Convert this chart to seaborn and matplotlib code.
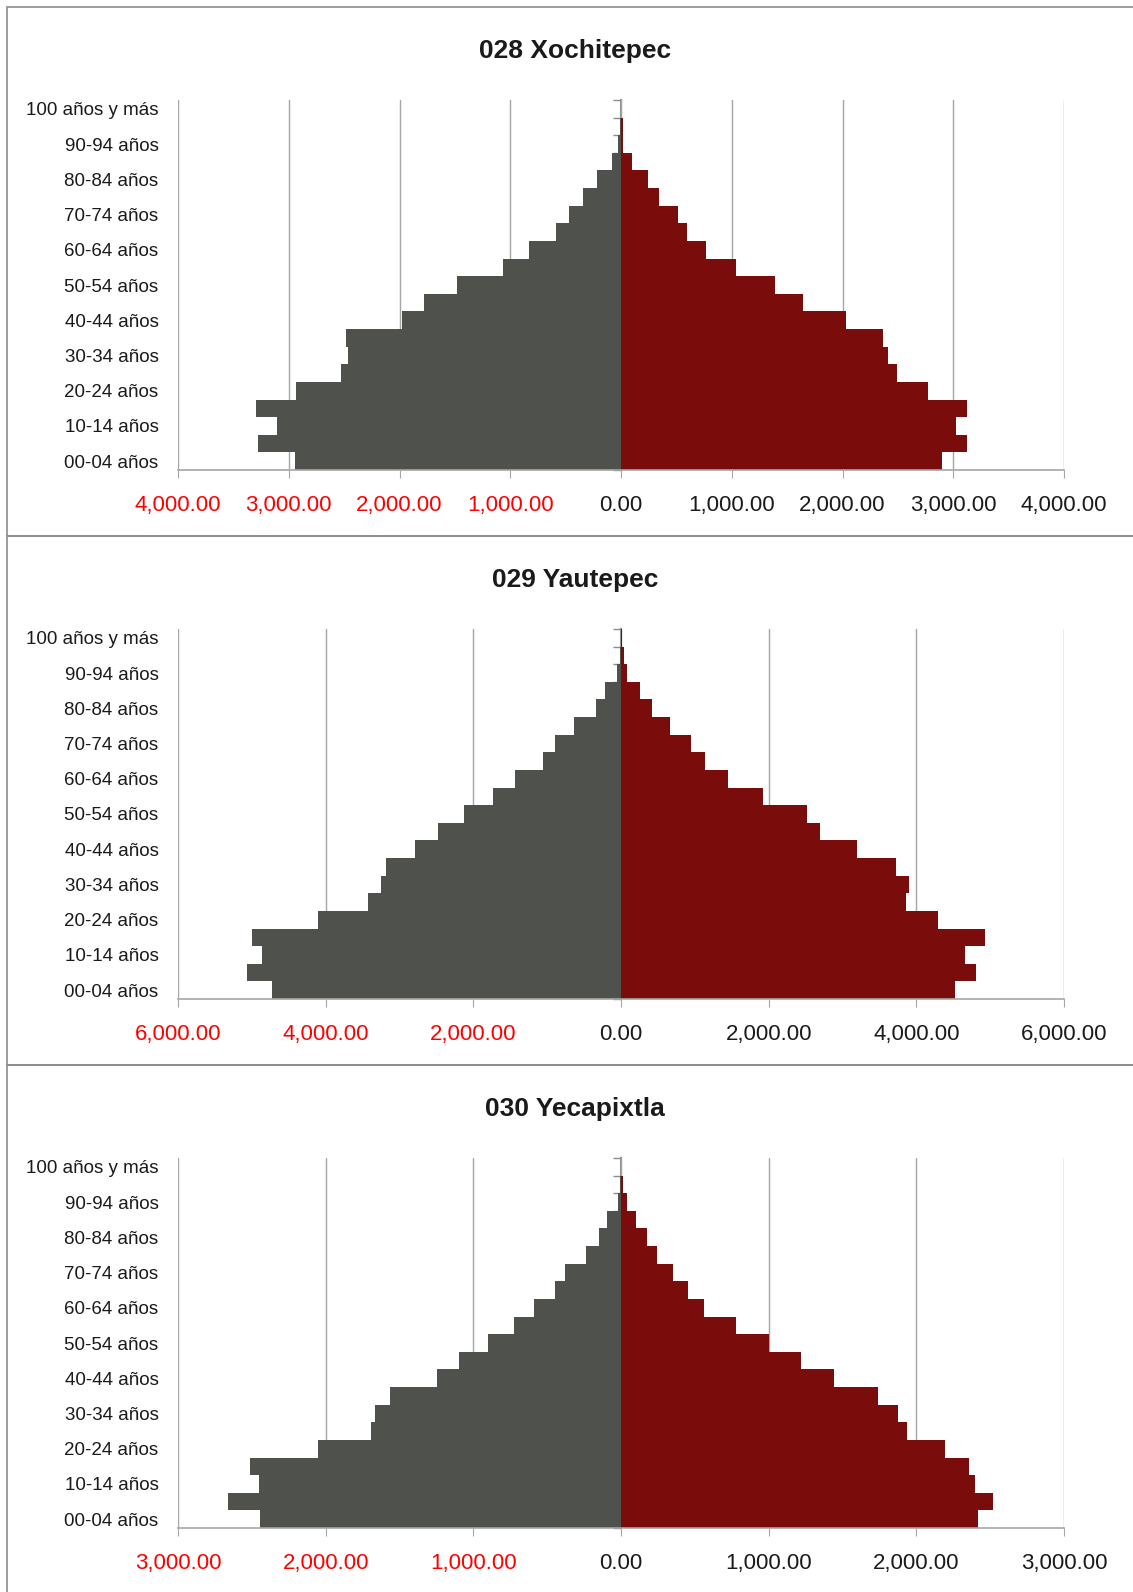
import matplotlib
matplotlib.use("Agg")
import numpy as np
import pandas as pd
import matplotlib.pyplot as plt
import seaborn as sns
from matplotlib.patches import Rectangle

# grupos de edad, de abajo hacia arriba
edades = ['00-04 años', '05-09 años', '10-14 años', '15-19 años', '20-24 años',
          '25-29 años', '30-34 años', '35-39 años', '40-44 años', '45-49 años',
          '50-54 años', '55-59 años', '60-64 años', '65-69 años', '70-74 años',
          '75-79 años', '80-84 años', '85-89 años', '90-94 años', '95-99 años',
          '100 años y más']

xochitepec_hombres = [2941, 3279, 3105, 3292, 2931, 2531, 2462, 2479, 1974, 1780, 1479,
                      1062, 833, 590, 470, 340, 214, 84, 24, 9, 3]
xochitepec_mujeres = [2900, 3120, 3027, 3120, 2774, 2494, 2413, 2367, 2033, 1639, 1395,
                      1036, 771, 596, 515, 343, 247, 96, 15, 18, 3]

yautepec_hombres = [4731, 5061, 4869, 4992, 4101, 3427, 3255, 3186, 2787, 2472, 2128,
                    1734, 1434, 1055, 898, 632, 339, 212, 59, 20, 3]
yautepec_mujeres = [4519, 4813, 4659, 4935, 4298, 3865, 3896, 3725, 3201, 2700, 2524,
                    1919, 1454, 1138, 948, 668, 424, 253, 77, 45, 9]

yecapixtla_hombres = [2442, 2660, 2451, 2510, 2050, 1696, 1669, 1566, 1246, 1096, 899,
                      724, 587, 447, 380, 237, 151, 97, 18, 7, 2]
yecapixtla_mujeres = [2415, 2521, 2400, 2357, 2192, 1939, 1878, 1740, 1445, 1219, 1000,
                      777, 560, 456, 352, 246, 178, 99, 38, 14, 2]

titulos = ['028 Xochitepec', '029 Yautepec', '030 Yecapixtla']
limites = [4000, 6000, 3000]
pasos = [1000, 2000, 1000]

GRIS = '#4f514c'
ROJO = '#7b0c0c'
LINEA = '#a6a6a6'

sns.set_style('white')
plt.rcParams['font.family'] = ['Liberation Sans', 'DejaVu Sans']

W, H = 1133, 1592
fig = plt.figure(figsize=(W / 100, H / 100), dpi=100)

# marcos de cada panel (en pixeles de la figura)
tops = [7, 536, 1065]
for t in tops:
    fig.add_artist(Rectangle((7 / W, 1 - (t + 529) / H), 1.1, 529 / H,
                             transform=fig.transFigure, fill=False,
                             edgecolor='#8c8c8c', lw=1.2))

datos = [(xochitepec_hombres, xochitepec_mujeres),
         (yautepec_hombres, yautepec_mujeres),
         (yecapixtla_hombres, yecapixtla_mujeres)]

for i, (h, m) in enumerate(datos):
    top = tops[i] + 93   # arriba del area de la grafica
    bottom = top + 370
    ax = fig.add_axes([178 / W, 1 - bottom / H, 886 / W, 370 / H])

    df = pd.DataFrame({
        'edad': edades + edades,
        'valor': [-v for v in h] + list(m),
        'sexo': ['Hombres'] * len(h) + ['Mujeres'] * len(m),
    })
    sns.barplot(data=df, x='valor', y='edad', hue='sexo', order=edades[::-1],
                hue_order=['Hombres', 'Mujeres'], palette=[GRIS, ROJO],
                dodge=False, width=1, saturation=1, linewidth=0,
                legend=False, orient='h', ax=ax)

    lim = limites[i]
    ax.set_xlim(-lim, lim)
    ax.set_ylim(20.5, -0.5)
    ticks = np.arange(-lim, lim + 1, pasos[i])
    ax.set_xticks(ticks)
    ax.set_xticklabels([f'{abs(t):,.2f}' for t in ticks], fontsize=16)
    for lbl, t in zip(ax.get_xticklabels(), ticks):
        lbl.set_color('#ff0000' if t < 0 else '#1a1a1a')

    pos = [20 - k for k in range(0, 21, 2)]
    ax.set_yticks(pos)
    ax.set_yticklabels([edades[k] for k in range(0, 21, 2)], fontsize=13.5, color='#1a1a1a')
    ax.tick_params(axis='y', length=0, pad=14)
    ax.tick_params(axis='x', length=6, color=LINEA, direction='out', pad=12, bottom=True)
    ax.set_xlabel('')
    ax.set_ylabel('')

    ax.grid(axis='x', color=LINEA, lw=1)
    ax.grid(axis='y', visible=False)
    ax.set_axisbelow(True)
    for s in ['top', 'right', 'left']:
        ax.spines[s].set_visible(False)
    ax.spines['bottom'].set_color(LINEA)
    ax.spines['bottom'].set_linewidth(1.2)

    # eje central con marcas en cada grupo
    sec = ax.secondary_yaxis(0.5)
    sec.set_alignment('left')
    sec.set_yticks(np.arange(-0.5, 21, 1))
    sec.set_yticklabels([])
    sec.tick_params(length=6, color='#8c8c8c', width=1)
    for s in sec.spines.values():
        s.set_color('#8c8c8c')
        s.set_linewidth(1.5)

    fig.text(575 / W, 1 - (tops[i] + 44) / H, titulos[i], ha='center', va='center',
             fontsize=19, fontweight='bold', color='#1a1a1a')

fig.savefig('out.png', dpi=100)
